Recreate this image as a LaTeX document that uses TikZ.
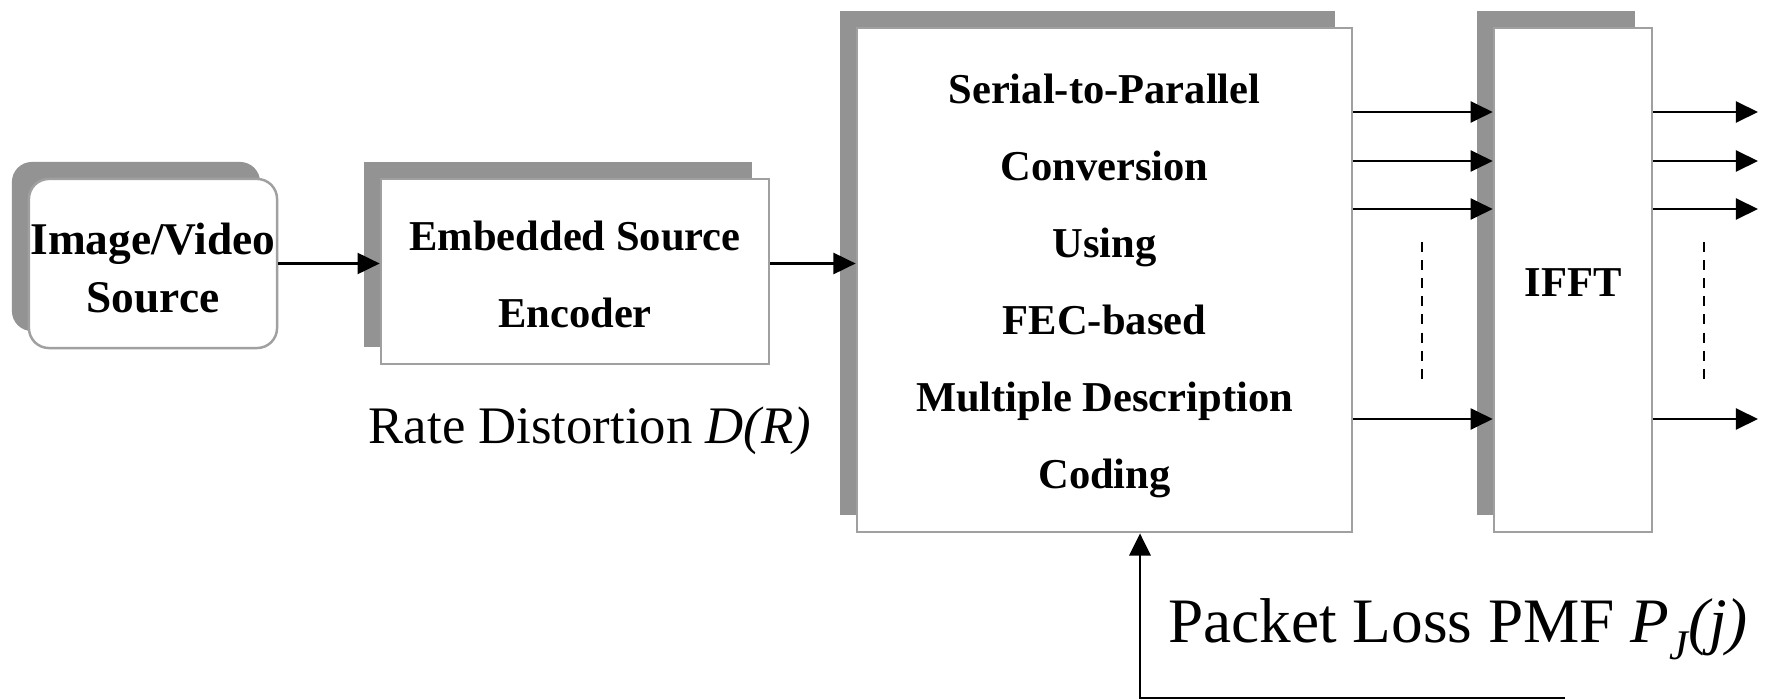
\documentclass[tikz,border=0pt]{standalone}
\usepackage{fontspec}
\setmainfont{Liberation Serif}
\usetikzlibrary{arrows.meta,shadows}
\definecolor{shade}{RGB}{147,147,147}
\definecolor{edge}{RGB}{160,160,160}
% invisible strut that lowers the text block inside a box
\newcommand\firstline[1]{\rule{0pt}{#1}}
\begin{document}
\begin{tikzpicture}[x=0.01cm,y=-0.01cm,
  block/.style={draw=edge, line width=0.7pt, fill=white, inner sep=0pt, align=center,
    font=\fontsize{12.1pt}{21.9pt}\selectfont\bfseries,
    drop shadow={opacity=1, fill=shade, draw=none, shadow xshift=-0.17cm, shadow yshift=0.17cm}},
  arr/.style={line width=0.6pt, -{Triangle[length=6.3pt,width=6pt]}},
  dots/.style={line width=0.6pt, dash pattern=on 2.85pt off 2.3pt},
  note/.style={inner sep=0pt}
]
\useasboundingbox (0,0) rectangle (1766,700);

% processing blocks
\node[block, rounded corners=0.2cm, minimum width=2.48cm, minimum height=1.69cm,
      font=\fontsize{12.9pt}{16.5pt}\selectfont\bfseries] (src) at (153,263.5)
  {\firstline{11.4pt}Image/Video\\Source};
\node[block, minimum width=3.88cm, minimum height=1.85cm] (enc) at (575,271.5)
  {\firstline{10.2pt}Embedded Source\\Encoder};
\node[block, minimum width=4.95cm, minimum height=5.04cm] (sp) at (1104.5,280)
  {\firstline{11.6pt}Serial-to-Parallel\\Conversion\\Using\\FEC-based\\Multiple Description\\Coding};
\node[block, minimum width=1.58cm, minimum height=5.04cm] (ifft) at (1573,280)
  {\firstline{9.2pt}IFFT};

% serial path
\draw[arr] (src.east) -- (src.east -| enc.west);
\draw[arr] (src.east -| enc.east) -- (src.east -| sp.west);

% parallel sub-streams
\coordinate (out) at (1758,0);
\foreach \y in {112,161,209,419} {
  \draw[arr] (sp.east |- 0,\y) -- (ifft.west |- 0,\y);
  \draw[arr] (ifft.east |- 0,\y) -- (out |- 0,\y);
}
\draw[dots] (1422,242) -- (1422,386);
\draw[dots] (1704,242) -- (1704,386);

% channel feedback
\coordinate (fb) at (1565,698);
\coordinate (fbx) at (1140,0);
\draw[arr, line width=0.8pt] (fb) -- (fbx |- fb) -- (fbx |- sp.south);

% annotations
\node[note, font=\fontsize{15pt}{15pt}\selectfont] (rd) at (590,431) {Rate Distortion \textit{D(R)}};
\node[note, font=\fontsize{18pt}{18pt}\selectfont] (pl) at (1458,629)
  {Packet Loss PMF \textit{P\raisebox{-0.6ex}{\fontsize{12pt}{12pt}\selectfont J}(j)}};
\end{tikzpicture}
\end{document}
